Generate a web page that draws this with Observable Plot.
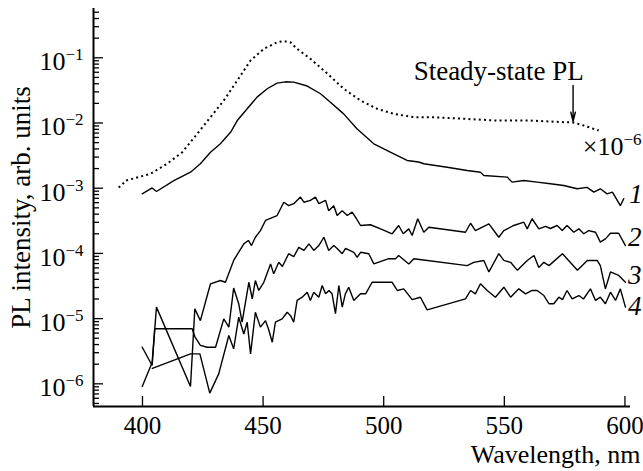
<!DOCTYPE html>
<html>
<head>
<meta charset="utf-8">
<script src="https://cdn.jsdelivr.net/npm/d3@7"></script>
<script src="https://cdn.jsdelivr.net/npm/@observablehq/plot@0.6"></script>
<style>
  html, body { margin: 0; padding: 0; background: #fff; }
  svg text { font-family: "Liberation Serif", "Times New Roman", serif; }
</style>
</head>
<body>
<div id="chart"></div>
<script>
// ---- Data ----
const steadyWl = [390.1, 391.3, 393, 396.3, 403.3, 410.2, 416.5, 422.7, 428.2, 433.7, 439.3, 444.8, 450.3, 455.8, 458.6, 461.3, 464.1, 469.6, 476.6, 483.4, 490.4, 497.3, 504.2, 512.5, 519.4, 533.2, 547, 560.8, 574.6, 578.5, 582.9, 589.1];
const steadyPL = [1.03e-3, 1.1e-3, 1.31e-3, 1.41e-3, 1.66e-3, 2.37e-3, 3.56e-3, 6.83e-3, 1.23e-2, 2.21e-2, 4.49e-2, 9.1e-2, 0.137, 0.173, 0.18, 0.173, 0.137, 0.0966, 0.0574, 0.0335, 0.0221, 0.0165, 0.0138, 0.0123, 0.0123, 0.0116, 0.0109, 0.0109, 0.0103, 0.0102, 0.00916, 0.00768];

const c1Wl = [399.9, 404, 405.8, 413, 419.9, 424, 428.2, 432.3, 436.5, 439.3, 443.4, 447.5, 451.7, 455.8, 459.3, 462.7, 468.3, 473.8, 477.9, 483.4, 489, 495.9, 504.2, 509.7, 514.5, 516.6, 526.3, 534.6, 540.1, 541.5, 551.2, 553.2, 558, 563.6, 569.1, 574.6, 580.2, 584.3, 587.1, 589.8, 592.6, 594.8, 598.1, 599.5];
const c1PL = [8.2e-4, 1.01e-3, 8.9e-4, 1.31e-3, 1.76e-3, 2.37e-3, 3.56e-3, 4.8e-3, 7.2e-3, 1.09e-2, 1.65e-2, 2.49e-2, 3.35e-2, 4.08e-2, 4.28e-2, 4.23e-2, 3.69e-2, 2.81e-2, 2.08e-2, 1.38e-2, 8.1e-3, 4.8e-3, 3.37e-3, 2.66e-3, 2.52e-3, 2.37e-3, 2.1e-3, 1.87e-3, 1.76e-3, 1.57e-3, 1.48e-3, 1.24e-3, 1.31e-3, 1.24e-3, 1.17e-3, 1.1e-3, 9.8e-4, 1.03e-3, 8.7e-4, 9.8e-4, 8.2e-4, 8.7e-4, 5.4e-4, 6.9e-4];

const c2Wl = [399.9, 404, 405.8, 419.9, 421.7, 424, 428.2, 432.3, 434.4, 437.8, 442, 443.9, 445.2, 446.8, 448.9, 451, 455.8, 458.6, 460.6, 462.7, 465.5, 466.9, 469.6, 471.7, 473.1, 475.9, 477.2, 479.3, 480.7, 482.8, 484.9, 486.9, 488.3, 490.4, 494.5, 498.7, 503.5, 506.2, 508.1, 510.4, 511.8, 514.1, 516.6, 518.7, 533.9, 536, 538, 543.6, 547.7, 549.8, 553.9, 558.1, 559.5, 561.5, 564.3, 567.1, 569.1, 571.9, 574, 576, 578.8, 580.9, 582.9, 585, 587.8, 589.8, 591.9, 594, 597.4, 600.2];
const c2PL = [9.1e-7, 2.12e-6, 1.5e-5, 9.1e-7, 1.41e-5, 9.3e-6, 3.42e-5, 3.84e-5, 3.61e-5, 7.8e-5, 1.4e-4, 1.58e-4, 1.32e-4, 1.77e-4, 2.24e-4, 3.2e-4, 3.81e-4, 6.1e-4, 5.4e-4, 5.8e-4, 7.3e-4, 6.1e-4, 6.5e-4, 7.3e-4, 5.8e-4, 6.5e-4, 4.5e-4, 5.4e-4, 3.81e-4, 4.5e-4, 3.81e-4, 4.3e-4, 3.59e-4, 2.68e-4, 2.75e-4, 2.38e-4, 2.0e-4, 2.68e-4, 2.0e-4, 2.38e-4, 1.88e-4, 3.4e-4, 2.11e-4, 2.52e-4, 2.11e-4, 2.9e-4, 2.24e-4, 2.84e-4, 1.77e-4, 2.24e-4, 2.68e-4, 3.01e-4, 2.38e-4, 3.4e-4, 2.38e-4, 2.59e-4, 2.41e-4, 2.68e-4, 2.24e-4, 2.68e-4, 2.11e-4, 2.38e-4, 2.0e-4, 2.24e-4, 2.11e-4, 1.49e-4, 1.67e-4, 2.04e-4, 2.04e-4, 1.32e-4];

const c3Wl = [399.9, 404, 405.1, 420.6, 421.7, 424, 426.8, 430.3, 433.7, 435.8, 437.8, 439.9, 441.3, 444.1, 445.5, 446.8, 448.2, 450.3, 453.1, 454.4, 456.5, 458, 460.6, 462.7, 464.8, 466.9, 469, 471, 473.1, 475.2, 477.2, 479.3, 480.7, 482.8, 484.2, 487.6, 489, 490.4, 493.8, 495.9, 502.1, 504.9, 506.2, 510.4, 512.5, 534.6, 537.3, 541.5, 543.6, 547.7, 549.8, 552.6, 555.4, 559.5, 562.3, 564.3, 566.4, 568.5, 574.1, 580.3, 584.4, 588.5, 589.8, 591.9, 594, 597.4, 600.2];
const c3PL = [3.64e-6, 1.91e-6, 6.98e-6, 6.98e-6, 5.3e-6, 3.88e-6, 3.64e-6, 3.64e-6, 9.9e-6, 7.4e-6, 2.94e-5, 1.69e-5, 8.8e-6, 3.61e-5, 2.01e-5, 3.84e-5, 2.7e-5, 3.61e-5, 6.9e-5, 4.86e-5, 7.3e-5, 6.3e-5, 9.9e-5, 8.9e-5, 1.24e-4, 1.11e-4, 1.4e-4, 1.11e-4, 1.32e-4, 1.77e-4, 1.11e-4, 1.32e-4, 1.19e-4, 9.9e-5, 1.19e-4, 1.04e-4, 8.7e-5, 1.04e-4, 9.9e-5, 6.9e-5, 8.3e-5, 8.3e-5, 9.3e-5, 6.9e-5, 8.3e-5, 6.5e-5, 7.3e-5, 7.8e-5, 5.2e-5, 9.9e-5, 7.8e-5, 7.3e-5, 5.5e-5, 7.8e-5, 9.3e-5, 6.1e-5, 7.3e-5, 6.5e-5, 9.9e-5, 5.5e-5, 7.8e-5, 7.8e-5, 6.5e-5, 2.86e-5, 5.2e-5, 4.6e-5, 3.61e-5];

const c4Wl = [404.1, 419.9, 423.8, 427.9, 431.6, 435.8, 437.8, 439.9, 442, 443.4, 444.8, 446.8, 448.9, 451, 452.2, 453.8, 455.1, 457.9, 460, 461.4, 462.7, 464.1, 466.2, 468.3, 469.6, 471, 473.1, 474.5, 475.9, 477.3, 478.6, 480, 481.4, 482.8, 484.1, 485.5, 487.6, 490.4, 492.5, 495.2, 500, 503.5, 505.6, 508.3, 511.8, 515.2, 518, 533.9, 536, 538, 540.1, 542.9, 546.3, 549.8, 552.6, 556, 558.8, 561.5, 563.6, 566.4, 568.5, 570.5, 572.6, 574.1, 576, 578.1, 580.9, 582.8, 585.7, 587.8, 589.8, 591.9, 594, 596.1, 598.1, 600.2];
const c4PL = [1.72e-6, 2.88e-6, 2.88e-6, 7.2e-7, 1.42e-6, 5.5e-6, 3.44e-6, 1.05e-5, 5.8e-6, 8.8e-6, 2.88e-6, 1.25e-5, 7.4e-6, 9.3e-6, 7.0e-6, 4.35e-6, 8.8e-6, 9.9e-6, 1.25e-5, 1.11e-5, 8.8e-6, 1.9e-5, 2.13e-5, 2.54e-5, 1.9e-5, 2.54e-5, 2.13e-5, 3.22e-5, 2.4e-5, 2.7e-5, 2.4e-5, 1.19e-5, 3.22e-5, 1.5e-5, 2.4e-5, 3.03e-5, 1.9e-5, 2.4e-5, 2.4e-5, 3.61e-5, 3.61e-5, 3.61e-5, 2.7e-5, 2.86e-5, 1.96e-5, 2.13e-5, 1.36e-5, 2.01e-5, 2.7e-5, 2.4e-5, 3.42e-5, 2.7e-5, 2.13e-5, 3.03e-5, 2.13e-5, 2.86e-5, 2.4e-5, 2.7e-5, 2.7e-5, 2.26e-5, 1.69e-5, 1.69e-5, 2.13e-5, 1.96e-5, 2.7e-5, 2.01e-5, 2.26e-5, 2.0e-5, 2.86e-5, 1.9e-5, 2.13e-5, 1.69e-5, 2.54e-5, 1.9e-5, 2.86e-5, 1.5e-5];

// axis ticks & labels
const xTicks = [400, 450, 500, 550, 600];
const yMajor = [1e-1, 1e-2, 1e-3, 1e-4, 1e-5, 1e-6];
const yExpLabels = ["\u22121", "\u22122", "\u22123", "\u22124", "\u22125", "\u22126"];
const yMinor = [5e-7, 6e-7, 7e-7, 8e-7, 9e-7,
  2e-6, 3e-6, 4e-6, 5e-6, 6e-6, 7e-6, 8e-6, 9e-6,
  2e-5, 3e-5, 4e-5, 5e-5, 6e-5, 7e-5, 8e-5, 9e-5,
  2e-4, 3e-4, 4e-4, 5e-4, 6e-4, 7e-4, 8e-4, 9e-4,
  2e-3, 3e-3, 4e-3, 5e-3, 6e-3, 7e-3, 8e-3, 9e-3,
  2e-2, 3e-2, 4e-2, 5e-2, 6e-2, 7e-2, 8e-2, 9e-2,
  2e-1, 3e-1, 4e-1, 5e-1];
const xDomain = [379.7, 602.3];
const yDomain = [4.49e-7, 0.57];

// annotations
const curveLabels = ["1", "2", "3", "4"];
const curveLabelWl = [601.8, 601.3, 601.3, 601.3];
const curveLabelPL = [6.0e-4, 1.32e-4, 3.45e-5, 1.12e-5];
const steadyLabel = {text: "Steady-state PL", wl: 512.4, pl: 0.0449};
const arrowFrom = {wl: 578.5, pl: 0.0376};
const arrowTo = {wl: 578.5, pl: 0.0106};
const scaleNote = {base: "\u00d710", exp: "\u22126", wl: 599.4, pl: 3.18e-3};

// ---- build tables ----
const zip = (xs, ys) => xs.map((x, i) => ({x, y: ys[i]}));
const steady = zip(steadyWl, steadyPL);
const c1 = zip(c1Wl, c1PL);
const c2 = zip(c2Wl, c2PL);
const c3 = zip(c3Wl, c3PL);
const c4 = zip(c4Wl, c4PL);
const labels = curveLabels.map((t, i) => ({t, x: curveLabelWl[i], y: curveLabelPL[i]}));
const majors = yMajor.map((v, i) => ({v, e: yExpLabels[i]}));

const FONT = "Liberation Serif";
const lineOpts = {x: "x", y: "y", stroke: "black", strokeWidth: 1.4, strokeLinejoin: "miter"};

const chart = Plot.plot({
  width: 643,
  height: 471,
  marginLeft: 93,
  marginRight: 13,
  marginTop: 8,
  marginBottom: 65,
  style: {fontFamily: FONT, background: "white", color: "black", overflow: "visible"},
  x: {domain: xDomain},
  y: {type: "log", domain: yDomain},
  marks: [
    // axis lines
    Plot.ruleX([xDomain[0]], {stroke: "black", strokeWidth: 2}),
    Plot.ruleY([yDomain[0]], {stroke: "black", strokeWidth: 2}),
    // y ticks (inward)
    Plot.axisY({ticks: yMinor, tickSize: -6, tickFormat: () => "", strokeWidth: 1.3, label: null}),
    Plot.axisY({ticks: yMajor, tickSize: -10, tickFormat: () => "", strokeWidth: 1.3, label: null}),
    // x ticks (inward) and labels
    Plot.axisX({ticks: xTicks, tickSize: -10, tickFormat: () => "", strokeWidth: 1.3, label: null}),
    Plot.axisX({ticks: xTicks, tickSize: 0, tickPadding: 9.5, fontSize: 25, fontFamily: FONT, label: null, tickFormat: d => String(d)}),
    // y tick labels 10^-k
    Plot.text(majors, {y: "v", text: () => "10", frameAnchor: "left", dx: -28, dy: 4, textAnchor: "end", fontSize: 26, fontFamily: FONT}),
    Plot.text(majors, {y: "v", text: "e", frameAnchor: "left", dx: -10, dy: -3, textAnchor: "end", fontSize: 17, fontFamily: FONT}),
    // axis titles
    Plot.text(["PL intensity, arb. units"], {text: d => d, frameAnchor: "left", dx: -72, rotate: -90, textAnchor: "middle", fontSize: 27, fontFamily: FONT}),
    Plot.text(["Wavelength, nm"], {text: d => d, frameAnchor: "bottom-right", dx: 10, dy: 56, textAnchor: "end", lineAnchor: "bottom", fontSize: 26, fontFamily: FONT}),
    // curves
    Plot.line(steady, {...lineOpts, strokeWidth: 2, strokeDasharray: "2,3.2", strokeLinecap: "butt"}),
    Plot.line(c1, lineOpts),
    Plot.line(c2, lineOpts),
    Plot.line(c3, lineOpts),
    Plot.line(c4, lineOpts),
    // annotations
    Plot.text([steadyLabel], {x: "wl", y: "pl", text: "text", textAnchor: "start", lineAnchor: "bottom", fontSize: 27, fontFamily: FONT}),
    Plot.arrow([{x1: arrowFrom.wl, y1: arrowFrom.pl, x2: arrowTo.wl, y2: arrowTo.pl}], {x1: "x1", y1: "y1", x2: "x2", y2: "y2", stroke: "black", strokeWidth: 1.4, headLength: 10, headAngle: 28}),
    Plot.text([scaleNote], {x: "wl", y: "pl", text: "base", textAnchor: "end", lineAnchor: "bottom", fontSize: 26, fontFamily: FONT}),
    Plot.text([scaleNote], {x: "wl", y: "pl", text: "exp", textAnchor: "start", lineAnchor: "bottom", dy: -10, fontSize: 17, fontFamily: FONT}),
    Plot.text(labels, {x: "x", y: "y", text: "t", textAnchor: "start", lineAnchor: "bottom", fontSize: 27, fontStyle: "italic", fontFamily: FONT})
  ]
});
document.getElementById("chart").appendChild(chart);
</script>
</body>
</html>
